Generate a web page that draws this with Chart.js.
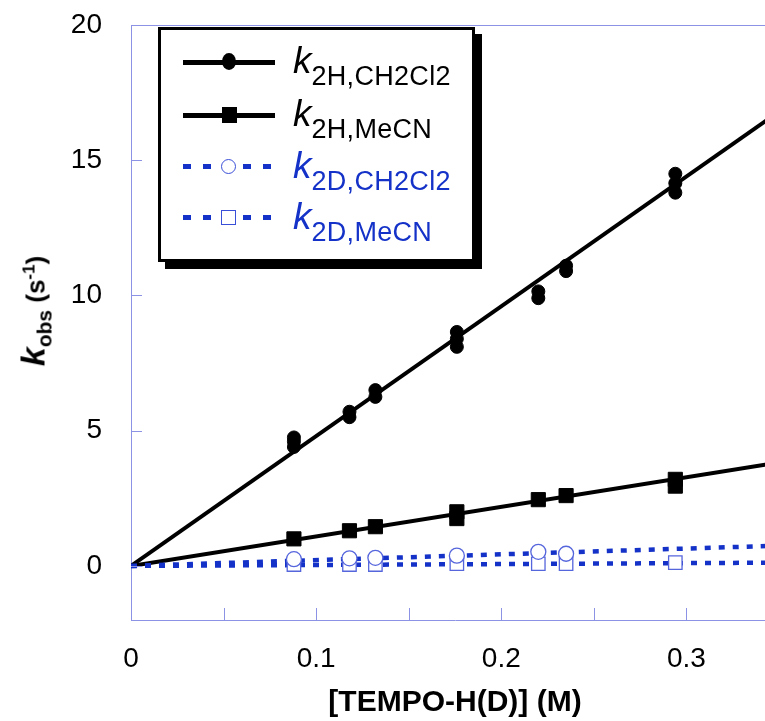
<!DOCTYPE html>
<html>
<head>
<meta charset="utf-8">
<script src="https://cdn.jsdelivr.net/npm/chart.js@4.4.1/dist/chart.umd.min.js"></script>
<style>
  html, body { margin: 0; padding: 0; background: #fff; overflow: hidden; }
  #wrap { position: relative; width: 765px; height: 721px; overflow: hidden; }
  #chart { position: absolute; left: 0; top: 0; }
  #ytitle {
    position: absolute; left: 35px; top: 311px;
    transform: translate(-50%, -50%) rotate(-90deg);
    white-space: nowrap; font: bold 26px "Liberation Sans", Arial, sans-serif; color: #000;
  }
  #ytitle i { font-size: 34px; }
  #ytitle sub { font-size: 21px; vertical-align: -7px; }
  #ytitle sup { font-size: 17px; vertical-align: 10px; }
  #legend {
    position: absolute; left: 158px; top: 27px; width: 311px; height: 229px;
    border: 3px solid #000; box-shadow: 7px 7px 0 #000; background: #fff;
    font-family: "Liberation Sans", Arial, sans-serif;
  }
  .row { position: absolute; left: 0; width: 311px; height: 40px; }
  .sample { position: absolute; left: 22px; top: 18px; width: 92px; height: 5px; background: #000; }
  .sample.dash {
    height: 5px; top: 17px; background: repeating-linear-gradient(to right, #1432c8 0 8px, transparent 8px 20px);
  }
  .mark { position: absolute; left: 61px; top: 13px; width: 14px; height: 14px; box-sizing: border-box; background: #fff; }
  .lbl { position: absolute; left: 132px; top: -1px; white-space: nowrap; line-height: 40px; }
  .lbl i { font-size: 37px; }
  .lbl sub { font-size: 27px; vertical-align: -12px; letter-spacing: 0.3px; }
</style>
</head>
<body>
<div id="wrap">
  <canvas id="chart" width="790" height="721"></canvas>
  <div id="ytitle"><i>k</i><sub>obs</sub> (s<sup>-1</sup>)</div>
  <div id="legend">
    <div class="row" style="top:12px">
      <div class="sample"></div>
      <div class="mark" style="background:#000;border-radius:50%;height:17px;top:11px"></div>
      <div class="lbl" style="color:#000"><i>k</i><sub>2H,CH2Cl2</sub></div>
    </div>
    <div class="row" style="top:65px">
      <div class="sample"></div>
      <div class="mark" style="background:#000;width:15px;height:16px;top:12px"></div>
      <div class="lbl" style="color:#000"><i>k</i><sub>2H,MeCN</sub></div>
    </div>
    <div class="row" style="top:117px">
      <div class="sample dash"></div>
      <div class="mark" style="border:1.5px solid #3a4fd8;border-radius:50%;width:15px;height:15px;left:60px;top:12px"></div>
      <div class="lbl" style="color:#1432c8"><i>k</i><sub>2D,CH2Cl2</sub></div>
    </div>
    <div class="row" style="top:168px">
      <div class="sample dash"></div>
      <div class="mark" style="border:1.5px solid #3a4fd8;width:15px;height:15px;left:60px;top:12px"></div>
      <div class="lbl" style="color:#1432c8"><i>k</i><sub>2D,MeCN</sub></div>
    </div>
  </div>
</div>
<script>
  // Dane
  const xTickValues = [0, 0.05, 0.1, 0.15, 0.2, 0.25, 0.3, 0.35];
  const xTickLabels = ["0", "", "0.1", "", "0.2", "", "0.3", ""];
  const yTickValues = [0, 5, 10, 15, 20];
  const yTickLabels = ["0", "5", "10", "15", "20"];

  // k2H w CH2Cl2 (pełne kółka)
  const h_ch2cl2_x = [0.088, 0.088, 0.088, 0.118, 0.118, 0.132, 0.132, 0.176, 0.176, 0.176, 0.220, 0.220, 0.235, 0.235, 0.294, 0.294, 0.294];
  const h_ch2cl2_y = [4.4, 4.6, 4.75, 5.5, 5.7, 6.25, 6.5, 8.1, 8.4, 8.65, 9.9, 10.15, 10.9, 11.1, 13.8, 14.15, 14.5];
  // k2H w MeCN (pełne kwadraty)
  const h_mecn_x = [0.088, 0.118, 0.132, 0.176, 0.176, 0.220, 0.235, 0.294, 0.294];
  const h_mecn_y = [1.0, 1.3, 1.45, 1.75, 2.0, 2.45, 2.6, 2.95, 3.2];
  // k2D w CH2Cl2 (puste kółka)
  const d_ch2cl2_x = [0.088, 0.118, 0.132, 0.176, 0.220, 0.235];
  const d_ch2cl2_y = [0.25, 0.28, 0.3, 0.38, 0.52, 0.45];
  // k2D w MeCN (puste kwadraty)
  const d_mecn_x = [0.088, 0.118, 0.132, 0.176, 0.220, 0.235, 0.294];
  const d_mecn_y = [0.05, 0.05, 0.05, 0.08, 0.08, 0.08, 0.12];

  // Proste dopasowania (początek i koniec)
  const fitX = [0, 0.35];
  const fit_h_ch2cl2 = [0, 16.8];
  const fit_h_mecn = [0, 3.82];
  const fit_d_ch2cl2 = [0, 0.75];
  const fit_d_mecn = [0, 0.12];

  const BLUE = "#1432c8";
  const OPEN = "#5565dc";
  const AXIS = "#8c93e4";
  const FONT = "'Liberation Sans', Arial, sans-serif";

  const pts = (xs, ys) => xs.map((x, i) => ({ x, y: ys[i] }));

  // Wewnętrzne kreski podziałki i górna ramka
  const innerTicks = {
    id: "innerTicks",
    afterDatasetsDraw(chart) {
      const { ctx, chartArea: a, scales } = chart;
      ctx.save();
      ctx.strokeStyle = AXIS;
      ctx.lineWidth = 1;
      ctx.beginPath();
      ctx.moveTo(a.left, a.top + 0.5);
      ctx.lineTo(a.right, a.top + 0.5);
      ctx.moveTo(a.right - 0.5, a.top);
      ctx.lineTo(a.right - 0.5, a.bottom);
      xTickValues.forEach((v) => {
        const px = Math.round(scales.x.getPixelForValue(v)) + 0.5;
        ctx.moveTo(px, a.bottom);
        ctx.lineTo(px, a.bottom - 12);
      });
      yTickValues.forEach((v) => {
        const py = Math.round(scales.y.getPixelForValue(v)) + 0.5;
        ctx.moveTo(a.left, py);
        ctx.lineTo(a.left + 11, py);
      });
      ctx.stroke();
      ctx.restore();
    },
  };

  const fitLine = (xs, ys, color, dash, width) => ({
    type: "line",
    data: pts(xs, ys),
    borderColor: color,
    borderWidth: width,
    borderDash: dash,
    pointRadius: 0,
    showLine: true,
    order: 2,
  });

  new Chart(document.getElementById("chart"), {
    type: "scatter",
    data: {
      datasets: [
        fitLine(fitX, fit_d_mecn, BLUE, [6, 8], 4.5),
        fitLine(fitX, fit_d_ch2cl2, BLUE, [6, 8], 4.5),
        fitLine(fitX, fit_h_mecn, "#000", [], 4),
        fitLine(fitX, fit_h_ch2cl2, "#000", [], 4),
        {
          data: pts(d_ch2cl2_x, d_ch2cl2_y),
          pointStyle: "circle", pointRadius: 7.5, backgroundColor: "#fff",
          borderColor: OPEN, borderWidth: 1.3, order: 1,
        },
        {
          data: pts(d_mecn_x, d_mecn_y),
          pointStyle: "rect", pointRadius: 9.5, backgroundColor: "#fff",
          borderColor: OPEN, borderWidth: 1.3, order: 1,
        },
        {
          data: pts(h_mecn_x, h_mecn_y),
          pointStyle: "rect", pointRadius: 10, backgroundColor: "#000",
          borderColor: "#000", borderWidth: 1, order: 0,
        },
        {
          data: pts(h_ch2cl2_x, h_ch2cl2_y),
          pointStyle: "circle", pointRadius: 6.5, backgroundColor: "#000",
          borderColor: "#000", borderWidth: 1, order: 0,
        },
      ],
    },
    options: {
      responsive: false,
      animation: false,
      devicePixelRatio: 1,
      layout: { padding: { left: 0, top: 25, right: 11, bottom: 0 } },
      plugins: { legend: { display: false }, tooltip: { enabled: false } },
      scales: {
        x: {
          type: "linear", min: 0, max: 0.35,
          afterBuildTicks: (s) => { s.ticks = xTickValues.map((v) => ({ value: v })); },
          afterFit: (s) => { s.height = 101; s.paddingLeft = 0; s.paddingRight = 0; },
          ticks: {
            autoSkip: false, maxRotation: 0, padding: 22, color: "#000",
            font: { family: FONT, size: 28 },
            callback: (v, i) => xTickLabels[i],
          },
          grid: { display: false, drawTicks: false },
          border: { display: true, color: AXIS, width: 1 },
          title: {
            display: true, text: "[TEMPO-H(D)] (M)", color: "#000",
            font: { family: FONT, size: 30, weight: "bold" },
            padding: { top: 0, bottom: 0 },
          },
        },
        y: {
          type: "linear", min: -2, max: 20,
          afterBuildTicks: (s) => { s.ticks = yTickValues.map((v) => ({ value: v })); },
          afterFit: (s) => { s.width = 131; s.paddingTop = 0; s.paddingBottom = 0; },
          ticks: {
            autoSkip: false, padding: 29, color: "#000",
            font: { family: FONT, size: 28 },
            callback: (v, i) => yTickLabels[i],
          },
          grid: { display: false, drawTicks: false },
          border: { display: true, color: AXIS, width: 1 },
        },
      },
    },
    plugins: [innerTicks],
  });
</script>
</body>
</html>
